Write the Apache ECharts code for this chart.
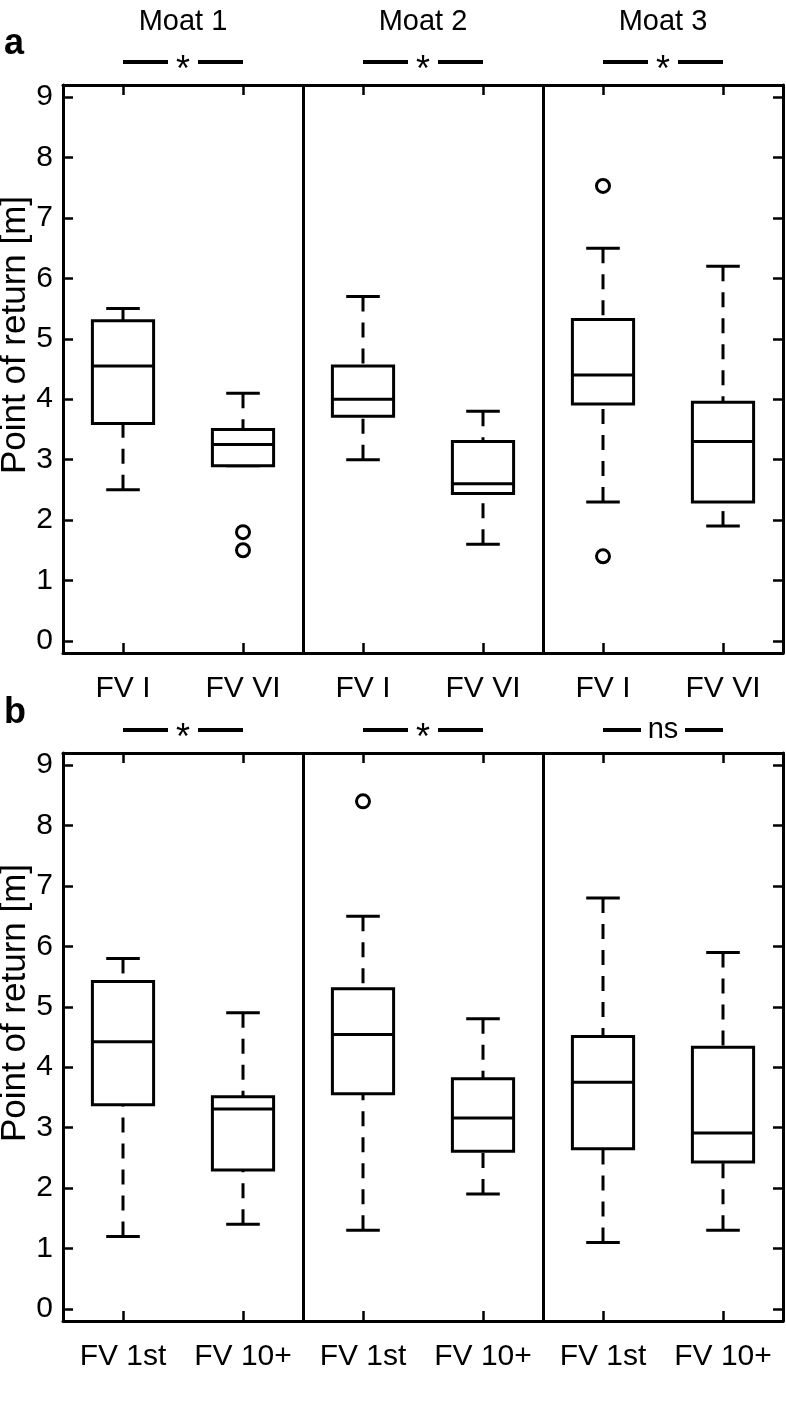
<!DOCTYPE html>
<html><head><meta charset="utf-8">
<script src="https://cdn.jsdelivr.net/npm/echarts@6/dist/echarts.min.js"></script>
<style>html,body{margin:0;padding:0;background:#fff}#c{width:786px;height:1406px}</style>
</head><body><div id="c"></div>
<script>
// ---------- data ----------
const categoriesA = ['FV I', 'FV VI', 'FV I', 'FV VI', 'FV I', 'FV VI'];
const categoriesB = ['FV 1st', 'FV 10+', 'FV 1st', 'FV 10+', 'FV 1st', 'FV 10+'];
const moatTitles = ['Moat 1', 'Moat 2', 'Moat 3'];
const yTicks = [0, 1, 2, 3, 4, 5, 6, 7, 8, 9];
// [lower whisker, Q1, median, Q3, upper whisker]
const boxesA = [
  [2.5, 3.6, 4.55, 5.3, 5.5],
  [2.9, 2.9, 3.25, 3.5, 4.1],
  [3.0, 3.72, 4.0, 4.55, 5.7],
  [1.6, 2.44, 2.6, 3.3, 3.8],
  [2.3, 3.92, 4.4, 5.32, 6.5],
  [1.9, 2.3, 3.3, 3.95, 6.2]
];
const outliersA = [[1, 1.8], [1, 1.5], [4, 7.53], [4, 1.4]];
const boxesB = [
  [1.2, 3.38, 4.42, 5.42, 5.8],
  [1.4, 2.3, 3.31, 3.51, 4.9],
  [1.3, 3.56, 4.54, 5.3, 6.5],
  [1.9, 2.61, 3.16, 3.81, 4.8],
  [1.1, 2.65, 3.75, 4.51, 6.8],
  [1.3, 2.43, 2.91, 4.33, 5.9]
];
const outliersB = [[2, 8.4]];
const sigA = ['*', '*', '*'];
const sigB = ['*', '*', 'ns'];

// ---------- helpers ----------
const FONT = "'Liberation Sans', Arial, sans-serif";
const Y_MIN = -0.2, Y_MAX = 9.2;
const LW = 3;

function boxItem(params, api) {
  const x = api.value(0);
  const lo = api.coord([x, api.value(1)]);
  const q1 = api.coord([x, api.value(2)]);
  const md = api.coord([x, api.value(3)]);
  const q3 = api.coord([x, api.value(4)]);
  const hi = api.coord([x, api.value(5)]);
  const band = api.size([1, 0])[0];
  const bw = band * 0.51, cw = band * 0.28;
  const cx = lo[0];
  const solid = { stroke: '#000', lineWidth: LW, fill: null };
  const dashed = { stroke: '#000', lineWidth: LW, lineDash: [15, 11], fill: null };
  return {
    type: 'group', children: [
      { type: 'line', shape: { x1: cx, y1: hi[1], x2: cx, y2: q3[1] }, style: dashed },
      { type: 'line', shape: { x1: cx, y1: lo[1], x2: cx, y2: q1[1] }, style: dashed },
      { type: 'line', shape: { x1: cx - cw / 2, y1: hi[1], x2: cx + cw / 2, y2: hi[1] }, style: solid },
      { type: 'line', shape: { x1: cx - cw / 2, y1: lo[1], x2: cx + cw / 2, y2: lo[1] }, style: solid },
      { type: 'rect', shape: { x: cx - bw / 2, y: q3[1], width: bw, height: q1[1] - q3[1] }, style: { fill: '#fff', stroke: '#000', lineWidth: LW } },
      { type: 'line', shape: { x1: cx - bw / 2, y1: md[1], x2: cx + bw / 2, y2: md[1] }, style: solid }
    ]
  };
}

function makeSigRender(labels, titles) {
  return function (params, api) {
    const i = params.dataIndex;
    const a = api.coord([api.value(0), Y_MAX]);
    const b = api.coord([api.value(1), Y_MAX]);
    const y = a[1] - 23;
    const mid = (a[0] + b[0]) / 2;
    const txt = labels[i];
    const isStar = txt === '*';
    const gap = isStar ? 15 : 22;
    const ls = { stroke: '#000', lineWidth: 4 };
    const children = [
      { type: 'line', shape: { x1: a[0], y1: y, x2: mid - gap, y2: y }, style: ls },
      { type: 'line', shape: { x1: mid + gap, y1: y, x2: b[0], y2: y }, style: ls },
      { type: 'text', style: { text: txt, x: mid, y: isStar ? y + 9 : y, align: 'center', verticalAlign: 'middle',
          fontSize: isStar ? 36 : 29, fontFamily: FONT, fill: '#000' } }
    ];
    if (titles) {
      children.push({ type: 'text', style: { text: titles[i], x: mid, y: a[1] - 63, align: 'center', verticalAlign: 'middle',
          fontSize: 29, fontFamily: FONT, fill: '#000' } });
    }
    return { type: 'group', children };
  };
}

function xAxesFor(grid, cats) {
  return [
    { type: 'category', gridIndex: grid, data: cats, position: 'bottom',
      axisLine: { show: true, onZero: false, lineStyle: { color: '#000', width: LW } },
      axisTick: { show: true, inside: true, alignWithLabel: true, length: 10, lineStyle: { color: '#000', width: 2.5 } },
      axisLabel: { show: true, interval: 0, color: '#000', fontSize: 30, fontFamily: FONT, margin: 21 },
      splitLine: { show: true, interval: function (idx) { return idx === 2 || idx === 4; }, lineStyle: { color: '#000', width: LW } }
    },
    { type: 'category', gridIndex: grid, data: cats, position: 'top',
      axisLine: { show: true, onZero: false, lineStyle: { color: '#000', width: LW } },
      axisTick: { show: true, inside: true, alignWithLabel: true, length: 10, lineStyle: { color: '#000', width: 2.5 } },
      axisLabel: { show: false }, splitLine: { show: false }
    }
  ];
}
function yAxesFor(grid) {
  return [
    { type: 'value', gridIndex: grid, min: Y_MIN, max: Y_MAX, position: 'left',
      name: 'Point of return [m]', nameLocation: 'middle', nameGap: 30, nameMoveOverlap: false,
      nameTextStyle: { color: '#000', fontSize: 35, fontFamily: FONT, padding: [0, 0, 0, 68] },
      axisLine: { show: true, onZero: false, lineStyle: { color: '#000', width: LW } },
      axisTick: { show: true, inside: true, length: 10, customValues: yTicks, lineStyle: { color: '#000', width: 2.5 } },
      axisLabel: { show: true, customValues: yTicks, color: '#000', fontSize: 30, fontFamily: FONT, margin: 10 },
      splitLine: { show: false }
    },
    { type: 'value', gridIndex: grid, min: Y_MIN, max: Y_MAX, position: 'right',
      axisLine: { show: true, onZero: false, lineStyle: { color: '#000', width: LW } },
      axisTick: { show: true, inside: true, length: 10, customValues: yTicks, lineStyle: { color: '#000', width: 2.5 } },
      axisLabel: { show: false }, splitLine: { show: false }
    }
  ];
}

function toBoxData(boxes) { return boxes.map((b, i) => [i, b[0], b[1], b[2], b[3], b[4]]); }
function toSigData(labels) { return labels.map((s, i) => [2 * i, 2 * i + 1]); }

const chart = echarts.init(document.getElementById('c'), null, { renderer: 'canvas' });
chart.setOption({
  backgroundColor: '#fff',
  animation: false,
  grid: [
    { left: 63, right: 3, top: 85, height: 568, containLabel: false, outerBoundsMode: 'none' },
    { left: 63, right: 3, top: 753, height: 568, containLabel: false, outerBoundsMode: 'none' }
  ],
  xAxis: [...xAxesFor(0, categoriesA), ...xAxesFor(1, categoriesB)],
  yAxis: [...yAxesFor(0), ...yAxesFor(1)],
  graphic: [
    { type: 'text', left: 4, top: 26, style: { text: 'a', fontSize: 36, fontWeight: 'bold', fontFamily: FONT, fill: '#000' } },
    { type: 'text', left: 4, top: 695, style: { text: 'b', fontSize: 36, fontWeight: 'bold', fontFamily: FONT, fill: '#000' } }
  ],
  series: [
    { type: 'custom', xAxisIndex: 0, yAxisIndex: 0, renderItem: boxItem, data: toBoxData(boxesA), encode: { x: 0, y: [1, 2, 3, 4, 5] }, z: 3 },
    { type: 'scatter', xAxisIndex: 0, yAxisIndex: 0, data: outliersA, symbol: 'circle', symbolSize: 13,
      itemStyle: { color: '#fff', borderColor: '#000', borderWidth: 3, opacity: 1 }, z: 4 },
    { type: 'custom', xAxisIndex: 0, yAxisIndex: 0, renderItem: makeSigRender(sigA, moatTitles), data: toSigData(sigA), clip: false, z: 5 },
    { type: 'custom', xAxisIndex: 2, yAxisIndex: 2, renderItem: boxItem, data: toBoxData(boxesB), encode: { x: 0, y: [1, 2, 3, 4, 5] }, z: 3 },
    { type: 'scatter', xAxisIndex: 2, yAxisIndex: 2, data: outliersB, symbol: 'circle', symbolSize: 13,
      itemStyle: { color: '#fff', borderColor: '#000', borderWidth: 3, opacity: 1 }, z: 4 },
    { type: 'custom', xAxisIndex: 2, yAxisIndex: 2, renderItem: makeSigRender(sigB, null), data: toSigData(sigB), clip: false, z: 5 }
  ]
});
</script>
</body></html>
